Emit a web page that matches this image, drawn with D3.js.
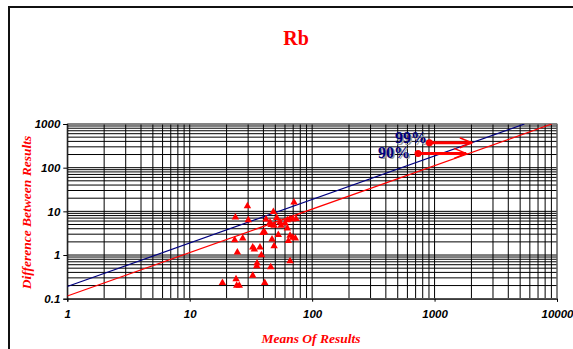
<!DOCTYPE html>
<html>
<head>
<meta charset="utf-8">
<script src="https://cdn.jsdelivr.net/npm/d3@7"></script>
<style>
  body { margin: 0; background: #fff; }
  svg { display: block; }
</style>
</head>
<body>
<div id="chart"></div>
<script>
// means of results (x) and difference between results (y)
const means = [71.1, 29.6, 48.2, 23.6, 30.1, 42.0, 45.3, 46.2, 51.4, 54.7, 55.7, 62.7, 66.0, 69.5, 73.9,
    60.1, 62.7, 48.9, 40.7, 39.5, 52.9, 27.1, 23.3, 47.0, 66.0, 69.5, 72.9, 63.9, 48.9, 32.7,
    33.7, 37.5, 24.5, 38.5, 66.0, 35.5, 35.3, 45.9, 32.7, 18.5, 23.9, 41.0, 24.2, 25.4]
const diffs = [16.1, 13.2, 9.8, 7.3, 6.3, 6.6, 5.6, 4.9, 7.1, 5.6, 4.7, 6.3, 6.7, 6.6, 6.7,
    5.3, 4.1, 4.7, 3.4, 3.2, 2.9, 2.4, 2.2, 2.3, 2.8, 2.5, 2.4, 2.1, 1.6, 1.5,
    1.35, 1.5, 1.15, 1.0, 0.73, 0.65, 0.56, 0.53, 0.34, 0.23, 0.28, 0.23, 0.20, 0.20]

// control limit lines, as end points [mean, difference]
const limit99 = [[1, 0.19], [5420, 1000]]
const limit90 = [[1, 0.115], [9060, 1000]]

// label text + where it ends, dot position and arrow tip (x), all in data units
const labels = [
    {text: "99%", lx: 868, ly: 366, x: 907, y: 372, tip: 2014},
    {text: "90%", lx: 630, ly: 170, x: 733, y: 212, tip: 1808},
]

const xTicks = [1, 10, 100, 1000, 10000]
const yTicks = [0.1, 1, 10, 100, 1000]

const W = 573, H = 349
const svg = d3.select("#chart").append("svg")
    .attr("width", W).attr("height", H)

// outer frame
svg.append("rect")
    .attr("x", 9).attr("y", 7).attr("width", 620).attr("height", 400)
    .attr("fill", "none").attr("stroke", "#111").attr("stroke-width", 2)

svg.append("text")
    .attr("x", 296).attr("y", 45)
    .attr("text-anchor", "middle")
    .attr("font-family", "Liberation Serif, Times New Roman, serif")
    .attr("font-weight", "bold").attr("font-size", 20)
    .attr("fill", "red")
    .text("Rb")

const x = d3.scaleLog().domain([1, 10000]).range([67.3, 557])
const y = d3.scaleLog().domain([0.1, 1000]).range([298.7, 124])

const plot = svg.append("g")

// grid
plot.append("g").selectAll("line")
    .data(x.ticks())
    .join("line")
    .attr("x1", d => x(d)).attr("x2", d => x(d))
    .attr("y1", y(0.1)).attr("y2", y(1000))
    .attr("stroke", "#000").attr("stroke-width", 1)

plot.append("g").selectAll("line")
    .data(y.ticks())
    .join("line")
    .attr("y1", d => y(d)).attr("y2", d => y(d))
    .attr("x1", x(1)).attr("x2", x(10000))
    .attr("stroke", "#000").attr("stroke-width", 1)

// plot area frame (top and right grey)
plot.append("rect")
    .attr("x", x(1)).attr("y", y(1000))
    .attr("width", x(10000) - x(1)).attr("height", y(0.1) - y(1000))
    .attr("fill", "none").attr("stroke", "#888").attr("stroke-width", 1)

const axisFont = g => g.selectAll("text")
    .attr("font-family", "Liberation Sans, Arial, sans-serif")
    .attr("font-weight", "bold").attr("font-style", "italic")
    .attr("font-size", 11.5).attr("fill", "#000")

svg.append("g")
    .attr("transform", `translate(${x(1)},0)`)
    .call(d3.axisLeft(y).tickValues(yTicks).tickSize(4).tickPadding(3)
        .tickFormat(d => d3.format("~g")(d)))
    .call(g => g.select(".domain").attr("stroke", "#000"))
    .call(axisFont)

svg.append("g")
    .attr("transform", `translate(0,${y(0.1)})`)
    .call(d3.axisBottom(x).tickValues(xTicks).tickSize(3).tickPadding(8)
        .tickFormat(d => d3.format("d")(d)))
    .call(g => g.select(".domain").attr("stroke", "#000"))
    .call(axisFont)

// axis titles
svg.append("text")
    .attr("x", 311).attr("y", 342.5)
    .attr("text-anchor", "middle")
    .attr("font-family", "Liberation Serif, Times New Roman, serif")
    .attr("font-weight", "bold").attr("font-style", "italic")
    .attr("font-size", 13.5).attr("fill", "red")
    .text("Means Of Results")

svg.append("text")
    .attr("transform", "translate(31,212.5) rotate(-90)")
    .attr("text-anchor", "middle")
    .attr("font-family", "Liberation Serif, Times New Roman, serif")
    .attr("font-weight", "bold").attr("font-style", "italic")
    .attr("font-size", 13.5).attr("fill", "red")
    .text("Difference Between Results")

// limit lines
svg.append("clipPath").attr("id", "clip")
    .append("rect")
    .attr("x", x(1)).attr("y", y(1000))
    .attr("width", x(10000) - x(1)).attr("height", y(0.1) - y(1000))

const line = d3.line().x(d => x(d[0])).y(d => y(d[1]))

const lines = svg.append("g").attr("clip-path", "url(#clip)")
lines.append("path").attr("d", line(limit99))
    .attr("fill", "none").attr("stroke", "#000080").attr("stroke-width", 1.2)
lines.append("path").attr("d", line(limit90))
    .attr("fill", "none").attr("stroke", "red").attr("stroke-width", 1.2)

// data
const pts = means.map((m, i) => ({m, d: diffs[i]}))
svg.append("g").selectAll("path")
    .data(pts)
    .join("path")
    .attr("transform", p => `translate(${x(p.m)},${y(p.d)})`)
    .attr("d", d3.symbol(d3.symbolTriangle, 24))
    .attr("fill", "red")

// 99% / 90% annotations
const ann = svg.append("g")
labels.forEach(l => {
    const px = x(l.x), py = y(l.y), tx = x(l.tip)
    const lx = x(l.lx), ly = y(l.ly)
    // grey drop shadow behind the label
    ann.append("text")
        .attr("x", lx + 1.5).attr("y", ly + 1.5)
        .attr("text-anchor", "end")
        .attr("font-family", "Liberation Serif, Times New Roman, serif")
        .attr("font-weight", "bold").attr("font-size", 16)
        .attr("fill", "#999")
        .text(l.text)
    ann.append("text")
        .attr("x", lx).attr("y", ly)
        .attr("text-anchor", "end")
        .attr("font-family", "Liberation Serif, Times New Roman, serif")
        .attr("font-weight", "bold").attr("font-size", 16)
        .attr("fill", "#000080")
        .text(l.text)
    ann.append("line")
        .attr("x1", px).attr("x2", tx).attr("y1", py).attr("y2", py)
        .attr("stroke", "red").attr("stroke-width", 3)
    ann.append("path")
        .attr("d", `M${tx - 12},${py - 5}L${tx},${py}L${tx - 12},${py + 5}`)
        .attr("fill", "none").attr("stroke", "red").attr("stroke-width", 1.5)
    ann.append("circle")
        .attr("cx", px).attr("cy", py).attr("r", 3.5)
        .attr("fill", "red")
})
</script>
</body>
</html>
